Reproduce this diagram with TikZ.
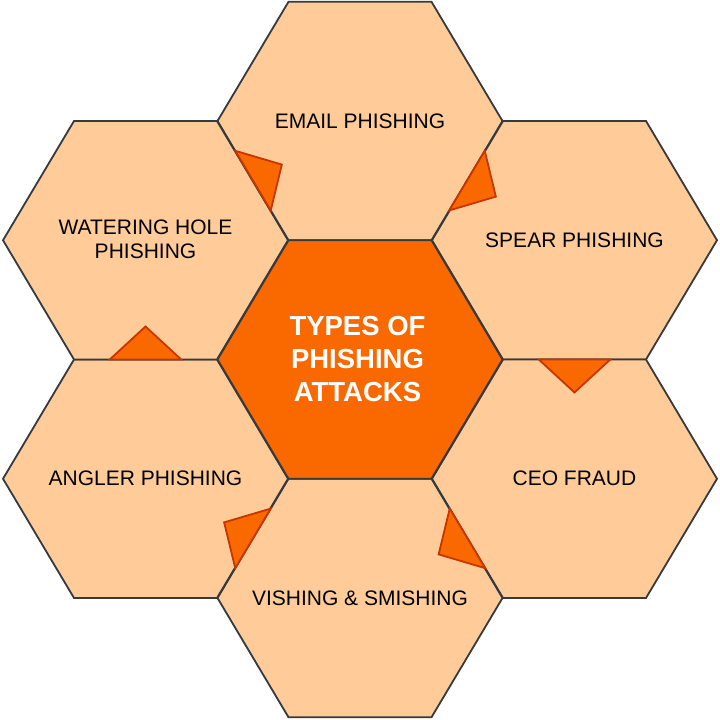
\documentclass[tikz,border=0pt]{standalone}
\usepackage{fontspec}
\setmainfont{Liberation Sans}
\usetikzlibrary{calc}
\definecolor{peach}{HTML}{FFCC99}
\definecolor{hexline}{HTML}{36393D}
\definecolor{orangefill}{HTML}{FA6800}
\definecolor{orangeline}{HTML}{C73500}
\newcommand\hexa[3]{%
  \coordinate (#1) at (#2);
  \coordinate (#1-l) at ($(#1)+(-142.5,0)$);
  \coordinate (#1-ul) at ($(#1)+(-71.5,-119.25)$);
  \coordinate (#1-ur) at ($(#1)+(71.5,-119.25)$);
  \coordinate (#1-r) at ($(#1)+(142.5,0)$);
  \coordinate (#1-lr) at ($(#1)+(71.5,119.25)$);
  \coordinate (#1-ll) at ($(#1)+(-71.5,119.25)$);
  \draw[hexbox,fill=#3] (#1-l) -- (#1-ul) -- (#1-ur) -- (#1-r) -- (#1-lr) -- (#1-ll) -- cycle;}
\newcommand\flowtri[3]{%
  \coordinate (m) at ($(#1)!0.5!(#2)$);
  \draw[tribox] ($(#1)!0.25!(#2)$) -- ($(#1)!0.75!(#2)$) -- ($(m)!33pt!(#3)$) -- cycle;}
\begin{document}
\begin{tikzpicture}[x=1pt,y=-1pt,
  hexbox/.style={draw=hexline,line width=1.8pt,line join=miter},
  tribox/.style={fill=orangefill,draw=orangeline,line width=1.8pt,line join=miter},
  lbl/.style={font=\fontsize{21}{24}\selectfont,align=center,text=black,inner sep=0pt},
  ctr/.style={font=\fontsize{27.5}{33}\selectfont\bfseries,align=center,text=white,inner sep=0pt}]
\useasboundingbox (0,0) rectangle (720,720);
\hexa{T}{360,121}{peach}
\hexa{UR}{574.5,240.25}{peach}
\hexa{LR}{574.5,478.75}{peach}
\hexa{B}{360,598}{peach}
\hexa{LL}{145.5,478.75}{peach}
\hexa{UL}{145.5,240.25}{peach}
\hexa{C}{360,359.5}{orangefill}
\flowtri{T-l}{T-ll}{T}
\flowtri{T-r}{T-lr}{UR}
\flowtri{UR-ll}{UR-lr}{LR}
\flowtri{LR-l}{LR-ll}{B}
\flowtri{B-l}{B-ul}{LL}
\flowtri{LL-ul}{LL-ur}{UL}
\node[lbl] (tT) at (T) {EMAIL PHISHING};
\node[lbl] (tUR) at (UR) {SPEAR PHISHING};
\node[lbl] (tLR) at (LR) {CEO FRAUD};
\node[lbl] (tB) at (B) {VISHING \& SMISHING};
\node[lbl] (tLL) at (LL) {ANGLER PHISHING};
\node[lbl] (tUL) at (145.5,239) {WATERING HOLE\\PHISHING};
\node[ctr] (tC) at (357.5,359.5) {TYPES OF\\PHISHING\\ATTACKS};
\end{tikzpicture}
\end{document}
